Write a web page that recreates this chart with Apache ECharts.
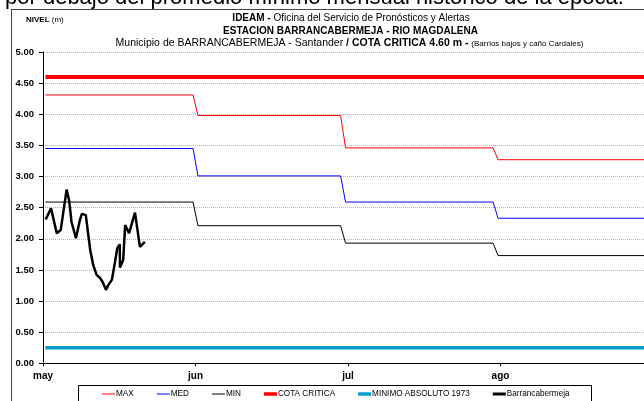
<!DOCTYPE html>
<html><head><meta charset="utf-8">
<script src="https://cdn.jsdelivr.net/npm/echarts@6/dist/echarts.min.js"></script>
<style>html,body{margin:0;padding:0;background:#fff}#c{width:644px;height:401px}</style>
</head><body><div id="c"></div><script>
// ---- data ----
const monthLabels = ['may', 'jun', 'jul', 'ago'];
const monthStart = [0, 31, 61, 92];     // day index of the 1st of each month (from 1 May)
const monthLen = [31, 30, 31, 31];
const maxVals = [4.31, 3.98, 3.46, 3.27];
const medVals = [3.45, 3.01, 2.59, 2.33];
const minVals = [2.59, 2.21, 1.93, 1.73];
const cotaCritica = 4.60;
const minimoAbsoluto = 0.25;
const obsDays = [0.05, 1.13, 2.3, 3.1, 4.3, 4.8, 5.3, 6.2, 7.0, 7.4, 8.2, 9.1, 9.7, 10.4, 11.1, 11.6, 12.3, 12.8, 13.5, 14.1, 14.6, 15.1, 15.15, 15.8, 16.2, 17.0, 18.2, 19.2, 20.2];
const obsVals = [2.31, 2.49, 2.09, 2.14, 2.79, 2.62, 2.27, 2.01, 2.30, 2.40, 2.38, 1.82, 1.58, 1.42, 1.37, 1.31, 1.18, 1.26, 1.34, 1.61, 1.85, 1.91, 1.54, 1.66, 2.22, 2.09, 2.42, 1.87, 1.95];
const yTicks = [0, 5, 0.5];
const seriesNames = ['MAX', 'MED', 'MIN', 'COTA CRITICA', 'MINIMO ABSOLUTO 1973', 'Barrancabermeja'];

// ---- build ----
const ARIAL = "'Liberation Sans',Arial,sans-serif";
const lastDay = monthStart[3] + monthLen[3];
function stepData(vals) {
  const d = [];
  vals.forEach((v, i) => {
    d.push([monthStart[i] + 0.5, v]);
    d.push([monthStart[i] + monthLen[i] - 0.5, v]);
  });
  return d;
}
function flat(v) { return [[0.5, v], [lastDay, v]]; }
const obsData = obsDays.map((d, i) => [d + 0.5, obsVals[i]]);

function line(name, data, color, width, z) {
  return { name, type: 'line', data, symbol: 'none', smooth: false, z: z || 2,
    lineStyle: { color, width }, itemStyle: { color }, animation: false };
}
// legend icon: horizontal bar of given thickness inside a 13x10 box
function barIcon(h) {
  const y0 = 5 - h / 2;
  return 'path://M0,0L0,0M13,10L13,10M0,' + y0 + 'L13,' + y0 + 'L13,' + (y0 + h) + 'L0,' + (y0 + h) + 'Z';
}
const iconThick = [1, 1, 1, 3.5, 3.5, 3];

const chart = echarts.init(document.getElementById('c'), null, { renderer: 'canvas' });
chart.setOption({
  animation: false,
  backgroundColor: '#fff',
  grid: { left: 43, width: 610, top: 52, height: 311.3, containLabel: false, outerBoundsMode: 'none' },
  xAxis: {
    type: 'value', min: 0, max: 124, interval: 31,
    axisLine: { lineStyle: { color: '#000', width: 1 } },
    axisTick: { show: true, length: 3, lineStyle: { color: '#000' } },
    splitLine: { show: false },
    axisLabel: { margin: 8, color: '#000', fontFamily: ARIAL, fontWeight: 'bold', fontSize: 10,
      formatter: v => monthLabels[Math.round(v / 31)] || '' }
  },
  yAxis: {
    type: 'value', min: yTicks[0], max: yTicks[1], interval: yTicks[2],
    axisLine: { show: true, lineStyle: { color: '#000', width: 1 } },
    axisTick: { show: true, length: 4, lineStyle: { color: '#000' } },
    splitLine: { show: true, lineStyle: { color: '#b4b4b4', type: [1, 1], width: 1 } },
    axisLabel: { margin: 9, color: '#000', fontFamily: ARIAL, fontWeight: 'bold', fontSize: 9.5,
      formatter: v => v.toFixed(2) }
  },
  legend: {
    data: seriesNames.map((n, i) => ({ name: n, icon: barIcon(iconThick[i]) })),
    left: 102, top: 389, padding: 0,
    itemWidth: 13, itemHeight: 10, itemGap: 23,
    textStyle: { fontFamily: ARIAL, fontSize: 8.2, color: '#000', padding: [0, 0, 0, -4] }
  },
  series: [
    line(seriesNames[0], stepData(maxVals), '#ff0000', 1),
    line(seriesNames[1], stepData(medVals), '#0000ff', 1),
    line(seriesNames[2], stepData(minVals), '#000000', 1),
    line(seriesNames[3], flat(cotaCritica), '#ff0000', 4),
    line(seriesNames[4], flat(minimoAbsoluto), '#0a9cd0', 3.5),
    line(seriesNames[5], obsData, '#000000', 2.5, 5)
  ],
  graphic: [
    { type: 'text', left: 5, top: -13, silent: true,
      style: { text: 'por debajo del promedio mínimo mensual histórico de la época.', font: '22px ' + ARIAL, fill: '#000' } },
    { type: 'line', shape: { x1: 11, y1: 9.5, x2: 644, y2: 9.5 }, style: { stroke: '#444', lineWidth: 1 }, silent: true },
    { type: 'line', shape: { x1: 11.5, y1: 9.5, x2: 11.5, y2: 401 }, style: { stroke: '#444', lineWidth: 1 }, silent: true },
    { type: 'text', x: 26, y: 20, silent: true,
      style: { text: '{b|NIVEL} (m)', fontFamily: ARIAL, fontSize: 8, fill: '#000', verticalAlign: 'middle',
        rich: { b: { fontWeight: 'bold', fontSize: 8, fontFamily: ARIAL } } } },
    { type: 'text', x: 351, y: 18, silent: true,
      style: { text: '{b|IDEAM -} Oficina del Servicio de Pronósticos y Alertas', fontFamily: ARIAL, fontSize: 10, fill: '#000', align: 'center', verticalAlign: 'middle',
        rich: { b: { fontWeight: 'bold', fontSize: 10, fontFamily: ARIAL } } } },
    { type: 'text', x: 350.5, y: 31, silent: true,
      style: { text: 'ESTACION BARRANCABERMEJA - RIO MAGDALENA', fontFamily: ARIAL, fontWeight: 'bold', fontSize: 10, fill: '#000', align: 'center', verticalAlign: 'middle' } },
    { type: 'text', x: 349.5, y: 43.5, silent: true,
      style: { text: 'Municipio de BARRANCABERMEJA - Santander {b|/} {r|COTA CRITICA 4.60 m} {b|-} {s|(Barrios bajos y caño Cardales)}', fontFamily: ARIAL, fontSize: 10.5, fill: '#000', align: 'center', verticalAlign: 'middle',
        rich: { b: { fontWeight: 'bold', fontSize: 10.5, fontFamily: ARIAL },
                r: { fontWeight: 'bold', fontSize: 10.5, fontFamily: ARIAL, color: '#ff0000' },
                s: { fontSize: 8, fontFamily: ARIAL } } } },
    { type: 'rect', shape: { x: 78.5, y: 385.5, width: 513, height: 40 }, style: { fill: 'none', stroke: '#000', lineWidth: 1 }, silent: true, z: -1 }
  ]
});
</script></body></html>
